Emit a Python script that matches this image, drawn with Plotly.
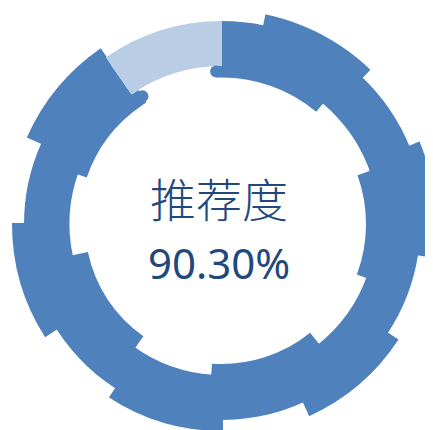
import plotly.graph_objects as go

# recommendation rate shown in the middle of the ring
label = "推荐度"
rate = 90.30

# jagged dark ring: outer pieces (angle breaks in degrees, outer radius)
outer_breaks = [0, 12, 43.6, 67.6, 98.8, 123.5, 155.3, 180, 212.8, 237.7, 270, 294.2]
outer_radius = [203, 216.5, 203, 217, 198.5, 211, 195, 207, 195, 210, 198, 213.5]
# inner pieces (angle breaks, inner radius)
inner_breaks = [0, 39.7, 70.5, 110.2, 141.3, 183.8, 215.3, 257.9, 289.3]
inner_radius = [146.5, 158, 144, 154, 140, 151, 137, 152.5, 143]
# remaining share (light piece), inner / outer radius
rest_radius = [158, 203]

dark = "#4F81BD"
light = "#B9CDE5"
text_col = "#1F497D"

end_angle = 360 * rate / 100
core = [157, 196]   # solid band shared by all pieces
pad = 0.3           # small overlap so pieces join without seams

W, H = 433, 430
cx, cy = 214, 216   # ring centre in figure pixels
R = 214


def pieces(breaks, end):
    edges = breaks + [end]
    th = [(a + b) / 2 for a, b in zip(edges[:-1], edges[1:])]
    wd = [b - a + 2 * pad for a, b in zip(edges[:-1], edges[1:])]
    return th, wd


fig = go.Figure()

th, wd = pieces(inner_breaks, end_angle)
fig.add_trace(go.Barpolar(
    theta=th, width=wd, base=inner_radius,
    r=[core[0] + 2 - i for i in inner_radius],
    marker=dict(color=dark, line=dict(width=0)),
    hoverinfo="skip",
))

th, wd = pieces(outer_breaks, end_angle)
fig.add_trace(go.Barpolar(
    theta=th, width=wd, base=[core[1] - 2] * len(th),
    r=[o - core[1] + 2 for o in outer_radius],
    marker=dict(color=dark, line=dict(width=0)),
    hoverinfo="skip",
))

# continuous core band plus small extensions under the rounded caps
fig.add_trace(go.Barpolar(
    theta=[end_angle / 2, -1.1, end_angle + 1.5],
    width=[end_angle, 2.2, 3],
    base=[core[0], inner_radius[0], inner_radius[-1]],
    r=[core[1] - core[0], rest_radius[0] - inner_radius[0], rest_radius[0] - inner_radius[-1]],
    marker=dict(color=dark, line=dict(width=0)),
    hoverinfo="skip",
))

fig.add_trace(go.Barpolar(
    theta=[(end_angle + 360) / 2], width=[360 - end_angle],
    base=[rest_radius[0]], r=[rest_radius[1] - rest_radius[0]],
    marker=dict(color=light, line=dict(width=0)),
    hoverinfo="skip",
))

# rounded inner corners at both ends of the dark arc
fig.add_trace(go.Scatterpolar(
    r=[152.5, 150.5], theta=[-2.2, end_angle + 3],
    mode="markers", marker=dict(color=dark, size=12, line=dict(width=0)),
    hoverinfo="skip",
))

fig.add_annotation(
    x=211 / W, y=1 - 189 / H, xref="paper", yref="paper",
    text=label, showarrow=False, xanchor="center", yanchor="middle",
    font=dict(family="Noto Sans CJK SC", size=46, color=text_col, weight=300),
)
fig.add_annotation(
    x=211 / W, y=1 - 254 / H, xref="paper", yref="paper",
    text=f"{rate:.2f}%", showarrow=False, xanchor="center", yanchor="middle",
    font=dict(family="Noto Sans", size=42, color=text_col),
)

fig.update_layout(
    width=W, height=H,
    margin=dict(l=0, r=0, t=0, b=0),
    paper_bgcolor="white",
    showlegend=False,
    polar=dict(
        domain=dict(x=[(cx - R) / W, (cx + R) / W], y=[(H - cy - R) / H, (H - cy + R) / H]),
        bgcolor="rgba(0,0,0,0)",
        bargap=0,
        radialaxis=dict(range=[0, R], visible=False),
        angularaxis=dict(rotation=90, direction="clockwise", visible=False),
    ),
)

fig.write_html("out.html")
